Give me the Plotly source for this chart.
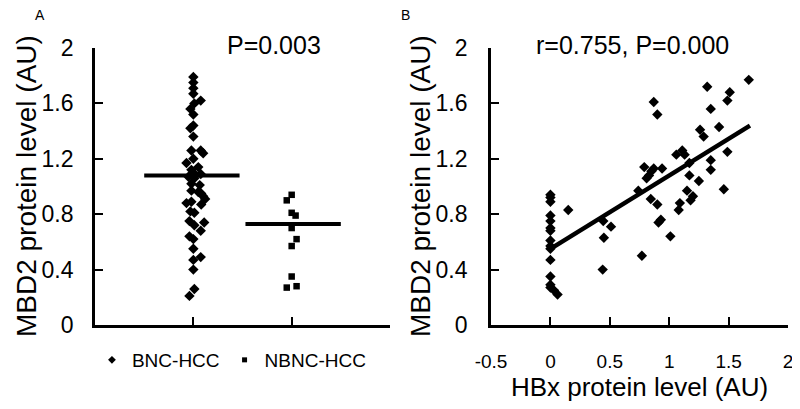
import plotly.graph_objects as go

# Panel A: MBD2 protein level by group (dot plot)
bnc_vals = [1.79, 1.75, 1.71, 1.67, 1.62, 1.60, 1.56, 1.52, 1.44, 1.42, 1.36,
            1.26, 1.26, 1.24, 1.20, 1.17, 1.14, 1.12, 1.10, 1.09, 1.07, 1.06,
            1.02, 1.01, 0.97, 0.96, 0.93, 0.95, 0.88, 0.89, 0.87, 0.91, 0.82,
            0.81, 0.75, 0.72, 0.74, 0.68, 0.64, 0.62, 0.55, 0.47, 0.49, 0.40,
            0.26, 0.21]
bnc_jitter = [0, 0, 0, 0, 0.075, 0.01, -0.03, 0, 0, -0.03, 0,
              -0.02, 0.075, 0.1, 0, -0.07, 0.05, -0.02, 0, 0.075, -0.05, 0.01,
              -0.02, 0.065, -0.02, 0.05, 0.1, 0.08, -0.07, -0.02, 0.08, 0.12, -0.03,
              0.01, -0.04, 0.01, 0.11, 0.075, -0.04, 0, 0, 0, 0.075, 0,
              0.01, -0.04]
nbnc_vals = [0.94, 0.90, 0.81, 0.79, 0.70, 0.62, 0.57, 0.35, 0.27, 0.28]
nbnc_jitter = [0, -0.05, 0, 0.04, 0, 0.05, 0, 0, -0.05, 0.05]
bnc_mean = 1.08
nbnc_mean = 0.73

# Panel B: HBx vs MBD2 scatter
hbx = [0, 0, 0, 0, 0, 0, 0, 0, 0, 0, 0, 0, 0, 0, 0.03, 0.06,
       0.15, 0.445, 0.45, 0.51, 0.44, 0.74, 0.77, 0.79, 0.81, 0.83, 0.85, 0.87,
       0.845, 0.87, 0.90, 0.90, 0.93, 0.91, 0.94, 1.01, 1.06, 1.11, 1.13, 1.09,
       1.08, 1.15, 1.18, 1.20, 1.17, 1.17, 1.25, 1.26, 1.29, 1.32, 1.35, 1.35,
       1.35, 1.42, 1.46, 1.49, 1.49, 1.51, 1.67]
mbd2 = [0.94, 0.92, 0.89, 0.79, 0.75, 0.70, 0.68, 0.61, 0.57, 0.55, 0.47, 0.35, 0.29, 0.27, 0.25, 0.22,
        0.83, 0.75, 0.63, 0.71, 0.40, 0.97, 0.50, 1.14, 1.06, 1.08, 1.11, 1.13,
        0.91, 1.61, 1.52, 0.87, 0.76, 0.74, 1.13, 0.64, 1.23, 1.26, 1.23, 0.88,
        0.83, 0.97, 0.90, 0.93, 1.17, 1.08, 1.04, 1.41, 1.36, 1.72, 1.56, 1.19,
        1.12, 1.43, 0.98, 1.25, 1.62, 1.68, 1.77]
fit_x = [0, 1.68]
fit_y = [0.55, 1.44]

FONT = "Liberation Sans, Arial, sans-serif"
# page body has an 8px margin, so the figure is sized to sit inside 800x409
W, H = 792, 401

fig = go.Figure()

# A: group dots
fig.add_trace(go.Scatter(x=[1 + j for j in bnc_jitter], y=bnc_vals, mode="markers",
                         marker=dict(symbol="diamond", size=8, color="black"),
                         showlegend=False, xaxis="x", yaxis="y"))
fig.add_trace(go.Scatter(x=[2 + j for j in nbnc_jitter], y=nbnc_vals, mode="markers",
                         marker=dict(symbol="square", size=6.5, color="black"),
                         showlegend=False, xaxis="x", yaxis="y"))
# mean bars
fig.add_trace(go.Scatter(x=[0.5, 1.47], y=[bnc_mean, bnc_mean], mode="lines",
                         line=dict(color="black", width=4), showlegend=False,
                         xaxis="x", yaxis="y"))
fig.add_trace(go.Scatter(x=[1.53, 2.5], y=[nbnc_mean, nbnc_mean], mode="lines",
                         line=dict(color="black", width=4), showlegend=False,
                         xaxis="x", yaxis="y"))
# legend entries only
fig.add_trace(go.Scatter(x=[None], y=[None], mode="markers", name="BNC-HCC",
                         marker=dict(symbol="diamond", size=6, color="black"),
                         xaxis="x", yaxis="y"))
fig.add_trace(go.Scatter(x=[None], y=[None], mode="markers", name="NBNC-HCC",
                         marker=dict(symbol="square", size=5, color="black"),
                         xaxis="x", yaxis="y"))

# B: scatter + fit
fig.add_trace(go.Scatter(x=hbx, y=mbd2, mode="markers",
                         marker=dict(symbol="diamond", size=8, color="black"),
                         showlegend=False, xaxis="x2", yaxis="y2"))
fig.add_trace(go.Scatter(x=fit_x, y=fit_y, mode="lines",
                         line=dict(color="black", width=4.5), showlegend=False,
                         xaxis="x2", yaxis="y2"))

axis_common = dict(showgrid=False, zeroline=False, showline=True, linecolor="black",
                   linewidth=3, ticks="inside", ticklen=8, tickwidth=2,
                   tickcolor="black", automargin=False)
ydom = [0.2095, 0.9003]
ytick = dict(tickvals=[0, 0.4, 0.8, 1.2, 1.6, 2],
             ticktext=["0", "0.4", "0.8", "1.2", "1.6", "2"])

ytitle = "MBD2 protein level (AU)"

fig.update_layout(
    width=W, height=H,
    margin=dict(l=0, r=0, t=0, b=0),
    paper_bgcolor="white", plot_bgcolor="white",
    font=dict(family=FONT, color="black"),
    xaxis=dict(domain=[0.1099, 0.4823], range=[0, 3], tickvals=[1, 2],
               showticklabels=False, anchor="y", **axis_common),
    yaxis=dict(domain=ydom, range=[0, 2], anchor="x", tickfont=dict(size=23),
               ticklabelstandoff=14, **ytick, **axis_common),
    xaxis2=dict(domain=[0.6099, 0.9848], range=[-0.5, 2], anchor="y2",
                tickvals=[-0.5, 0, 0.5, 1, 1.5, 2],
                ticktext=["-0.5", "0", "0.5", "1", "1.5", "2"],
                tickfont=dict(size=19), ticklabelstandoff=17,
                title=dict(text="HBx protein level (AU)", font=dict(size=26), standoff=8),
                **axis_common),
    yaxis2=dict(domain=ydom, range=[0, 2], anchor="x2", tickfont=dict(size=23),
                ticklabelstandoff=16, **ytick, **axis_common),
    legend=dict(orientation="h", x=0.106, y=0.1222, xanchor="left", yanchor="middle",
                font=dict(size=19), bgcolor="rgba(0,0,0,0)"),
    annotations=[
        dict(text="A", x=0.0404, y=0.9825, xref="paper", yref="paper", showarrow=False,
             xanchor="center", yanchor="middle", font=dict(size=14)),
        dict(text="B", x=0.5013, y=0.9825, xref="paper", yref="paper", showarrow=False,
             xanchor="center", yanchor="middle", font=dict(size=14)),
        dict(text="P=0.003", x=0.3359, y=0.9077, xref="paper", yref="paper",
             xanchor="center", yanchor="middle", showarrow=False, font=dict(size=25)),
        dict(text="r=0.755, P=0.000", x=0.7879, y=0.9077, xref="paper", yref="paper",
             xanchor="center", yanchor="middle", showarrow=False, font=dict(size=25)),
        dict(text=ytitle, x=0.0227, y=0.556, xref="paper", yref="paper", textangle=-90,
             xanchor="center", yanchor="middle", showarrow=False, font=dict(size=28)),
        dict(text=ytitle, x=0.5202, y=0.556, xref="paper", yref="paper", textangle=-90,
             xanchor="center", yanchor="middle", showarrow=False, font=dict(size=28)),
    ],
)

fig.write_html("out.html")
